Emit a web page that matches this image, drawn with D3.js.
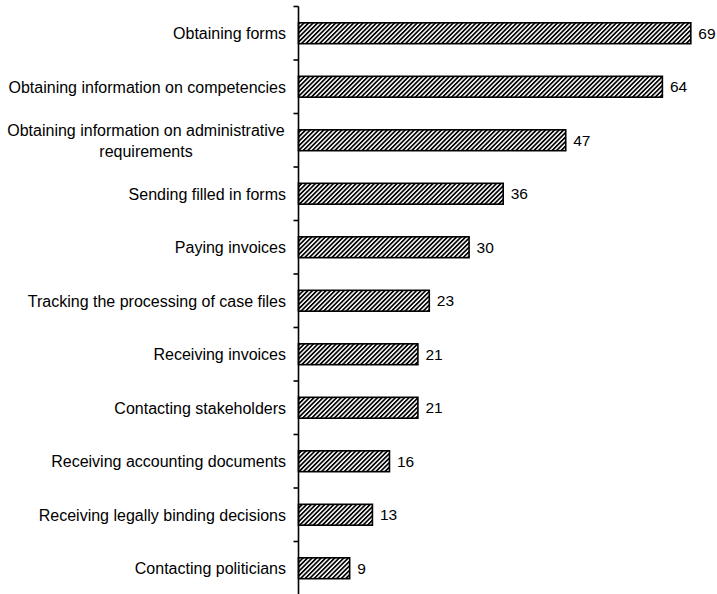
<!DOCTYPE html>
<html>
<head>
<meta charset="utf-8">
<script src="https://cdn.jsdelivr.net/npm/d3@7"></script>
<style>
  body { margin: 0; background: #fff; }
  svg text { font-family: "Liberation Sans", Arial, sans-serif; fill: #000; }
</style>
</head>
<body>
<div id="chart"></div>
<script>
// 类目与数值
const categories = [
  'Obtaining forms',
  'Obtaining information on competencies',
  'Obtaining information on administrative requirements',
  'Sending filled in forms',
  'Paying invoices',
  'Tracking the processing of case files',
  'Receiving invoices',
  'Contacting stakeholders',
  'Receiving accounting documents',
  'Receiving legally binding decisions',
  'Contacting politicians'
];
const values = [69, 64, 47, 36, 30, 23, 21, 21, 16, 13, 9];

const width = 717, height = 594;
const axisX = 298.5;

const svg = d3.select('#chart')
  .append('svg')
  .attr('width', width)
  .attr('height', height);

// 斜线填充
const defs = svg.append('defs');
const pat = defs.append('pattern')
  .attr('id', 'hatch')
  .attr('patternUnits', 'userSpaceOnUse')
  .attr('width', 3.2)
  .attr('height', 4)
  .attr('patternTransform', 'rotate(45)');
pat.append('rect').attr('width', 3.2).attr('height', 4).attr('fill', '#fff');
pat.append('rect').attr('width', 1.7).attr('height', 4).attr('fill', '#000');

const x = d3.scaleLinear().domain([0, 70]).range([axisX, axisX + 398]);
const y = d3.scaleBand().domain(categories).range([6.5, 595]).paddingInner(0.61).paddingOuter(0.305);

// 条形
svg.selectAll('rect.bar')
  .data(values)
  .enter().append('rect')
  .attr('class', 'bar')
  .attr('x', x(0))
  .attr('y', (d, i) => y(categories[i]))
  .attr('width', d => x(d) - x(0))
  .attr('height', y.bandwidth())
  .attr('fill', 'url(#hatch)')
  .attr('stroke', '#000')
  .attr('stroke-width', 1.6);

// 数值标签
svg.selectAll('text.val')
  .data(values)
  .enter().append('text')
  .attr('class', 'val')
  .attr('x', d => x(d) + 7.5)
  .attr('y', (d, i) => y(categories[i]) + y.bandwidth() / 2)
  .attr('dy', '0.36em')
  .style('font-size', '15.5px')
  .text(d => d);

// y 轴线和刻度（刻度在类目之间）
const step = y.step();
const boundaries = d3.range(categories.length).map(i => 6.5 + i * step);
svg.append('line')
  .attr('x1', axisX).attr('x2', axisX)
  .attr('y1', 6.5).attr('y2', height)
  .attr('stroke', '#000').attr('stroke-width', 1.6);
svg.selectAll('line.tick')
  .data(boundaries)
  .enter().append('line')
  .attr('class', 'tick')
  .attr('x1', axisX - 5).attr('x2', axisX)
  .attr('y1', d => d).attr('y2', d => d)
  .attr('stroke', '#000').attr('stroke-width', 1.6);

// 类目标签
const labelLines = {
  'Obtaining information on administrative requirements': ['Obtaining information on administrative', 'requirements']
};
categories.forEach(c => {
  const lines = labelLines[c] || [c];
  const cy = y(c) + y.bandwidth() / 2;
  if (lines.length === 1) {
    svg.append('text')
      .attr('x', 286)
      .attr('y', cy)
      .attr('dy', '0.36em')
      .attr('text-anchor', 'end')
      .style('font-size', '16px')
      .text(c);
  } else {
    const t = svg.append('text')
      .attr('text-anchor', 'middle')
      .style('font-size', '16px');
    lines.forEach((l, j) => {
      t.append('tspan')
        .attr('x', 146)
        .attr('y', cy + (j - 0.5) * 21)
        .attr('dy', '0.36em')
        .text(l);
    });
  }
});
</script>
</body>
</html>
